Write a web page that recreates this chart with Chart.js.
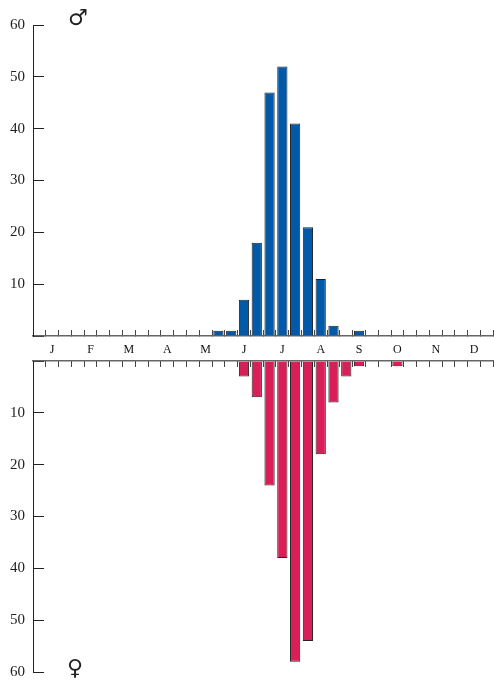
<!DOCTYPE html>
<html>
<head>
<meta charset="utf-8">
<script src="https://cdn.jsdelivr.net/npm/chart.js@4"></script>
<style>
  body { margin: 0; overflow: hidden; background: #fff; width: 494px; height: 681px; }
  canvas { position: absolute; left: 0; }
  #top { top: 0; }
  #bottom { top: 336px; }
  .sex { position: absolute; font: 22px "DejaVu Sans"; color: #222; line-height: 1; }
</style>
</head>
<body>
<canvas id="top" width="500" height="362"></canvas>
<canvas id="bottom" width="500" height="345"></canvas>
<span class="sex" style="left:68px;top:7px">♂</span>
<span class="sex" style="left:67px;top:657px">♀</span>
<script>
// mois, 3 décades chacun
const months = ['J', 'F', 'M', 'A', 'M', 'J', 'J', 'A', 'S', 'O', 'N', 'D']
const decades = months.flatMap((m, i) => [m + '1', m + '2', m + '3'])

// effectifs par décade
const males = [0, 0, 0, 0, 0, 0, 0, 0, 0, 0, 0, 0,
  0, 0, 1, 1, 7, 18, 47, 52, 41, 21, 11, 2,
  0, 1, 0, 0, 0, 0, 0, 0, 0, 0, 0, 0]
const females = [0, 0, 0, 0, 0, 0, 0, 0, 0, 0, 0, 0,
  0, 0, 0, 0, 3, 7, 24, 38, 58, 54, 18, 8,
  3, 1, 0, 0, 1, 0, 0, 0, 0, 0, 0, 0]

const yTicks = [0, 10, 20, 30, 40, 50, 60]

const ink = '#222'
const numFont = { family: 'Liberation Serif', size: 15 }

const yAxis = (reverse) => ({
  min: 0,
  max: 60,
  reverse: reverse,
  afterFit: s => {
    s.width = 33
    // pas de marge auto : la mise en page fixe les bords
    s.paddingTop = 0
    s.paddingBottom = 0
  },
  afterBuildTicks: s => { s.ticks = yTicks.map(v => ({ value: v })) },
  ticks: {
    color: ink,
    font: numFont,
    padding: 19,
    callback: v => v === 0 ? '' : v,
  },
  grid: { drawOnChartArea: false, tickLength: -11, color: ink, lineWidth: 1 },
  border: { color: ink, width: 1 },
})

const xAxis = (position, showLabels) => ({
  position: position,
  afterFit: s => { s.height = position === 'top' ? 25 : 26 },
  ticks: {
    autoSkip: false,
    maxRotation: 0,
    color: '#111',
    padding: 13,
    font: { family: 'Liberation Serif', size: 12 },
    callback: (v, i) => showLabels && i % 3 === 1 ? months[Math.floor(i / 3)] : '',
  },
  grid: { drawOnChartArea: false, offset: true, tickLength: -6, color: '#444', lineWidth: 1 },
  border: { color: '#666', width: 1.5 },
})

const create = (id, values, colour, position, reverse, padding) => {
  const canvas = document.getElementById(id)
  return new Chart(canvas, {
    type: 'bar',
    data: {
      labels: decades,
      datasets: [{
        data: values,
        backgroundColor: colour,
        borderColor: ink,
        borderWidth: 1,
        barPercentage: 0.8,
        categoryPercentage: 1,
      }],
    },
    options: {
      responsive: false,
      animation: false,
      layout: { padding: padding },
      plugins: { legend: { display: false }, tooltip: { enabled: false } },
      scales: {
        x: xAxis(position, position === 'bottom'),
        y: yAxis(reverse),
      },
    },
  })
}

create('top', males, '#0059A9', 'bottom', false, { top: 25, left: 0, right: 4, bottom: 0 })
create('bottom', females, '#DA1F58', 'top', true, { top: 0, left: 0, right: 4, bottom: 9 })
</script>
</body>
</html>
